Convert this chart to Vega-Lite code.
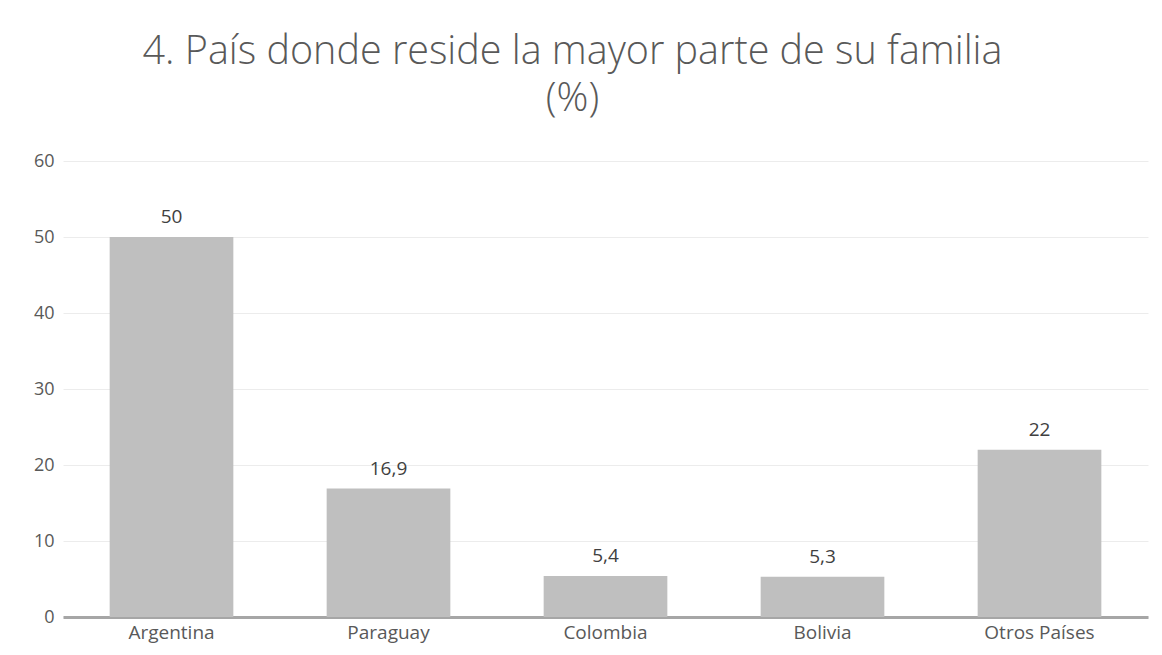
{
  "$schema": "https://vega.github.io/schema/vega-lite/v6.json",
  "autosize": {"type": "none"},
  "width": 1085,
  "height": 456,
  "padding": {"left": 63, "top": 161, "right": 14, "bottom": 38},
  "background": "white",
  "title": {
    "text": ["4. País donde reside la mayor parte de su familia", "(%)"],
    "font": "Open Sans",
    "fontSize": 39.5,
    "fontWeight": 300,
    "color": "#595959",
    "anchor": "middle",
    "dx": -33,
    "offset": 33,
    "lineHeight": 47
  },
  "data": {
    "values": [
      {"pais": "Argentina", "valor": 50, "etiqueta": "50"},
      {"pais": "Paraguay", "valor": 16.9, "etiqueta": "16,9"},
      {"pais": "Colombia", "valor": 5.4, "etiqueta": "5,4"},
      {"pais": "Bolivia", "valor": 5.3, "etiqueta": "5,3"},
      {"pais": "Otros Países", "valor": 22, "etiqueta": "22"}
    ]
  },
  "encoding": {
    "x": {
      "field": "pais",
      "type": "nominal",
      "sort": null,
      "scale": {"paddingInner": 0.43, "paddingOuter": 0.215},
      "axis": {
        "title": null,
        "labelAngle": 0,
        "labelFont": "Open Sans",
        "labelFontSize": 19,
        "labelColor": "#595959",
        "labelPadding": 6,
        "ticks": false,
        "domainColor": "#a6a6a6",
        "domainWidth": 3
      }
    },
    "y": {
      "field": "valor",
      "type": "quantitative",
      "scale": {"domain": [0, 60]},
      "axis": {
        "title": null,
        "values": [0, 10, 20, 30, 40, 50, 60],
        "labelFont": "Open Sans",
        "labelFontSize": 18,
        "labelColor": "#595959",
        "labelPadding": 9,
        "ticks": false,
        "domain": false,
        "gridColor": "#ececec",
        "gridWidth": 1
      }
    }
  },
  "layer": [
    {"mark": {"type": "bar", "color": "#bfbfbf"}},
    {
      "mark": {"type": "text", "baseline": "alphabetic", "dy": -14, "font": "Open Sans", "fontSize": 19, "color": "#404040"},
      "encoding": {"text": {"field": "etiqueta"}}
    }
  ],
  "config": {"view": {"stroke": null}}
}
